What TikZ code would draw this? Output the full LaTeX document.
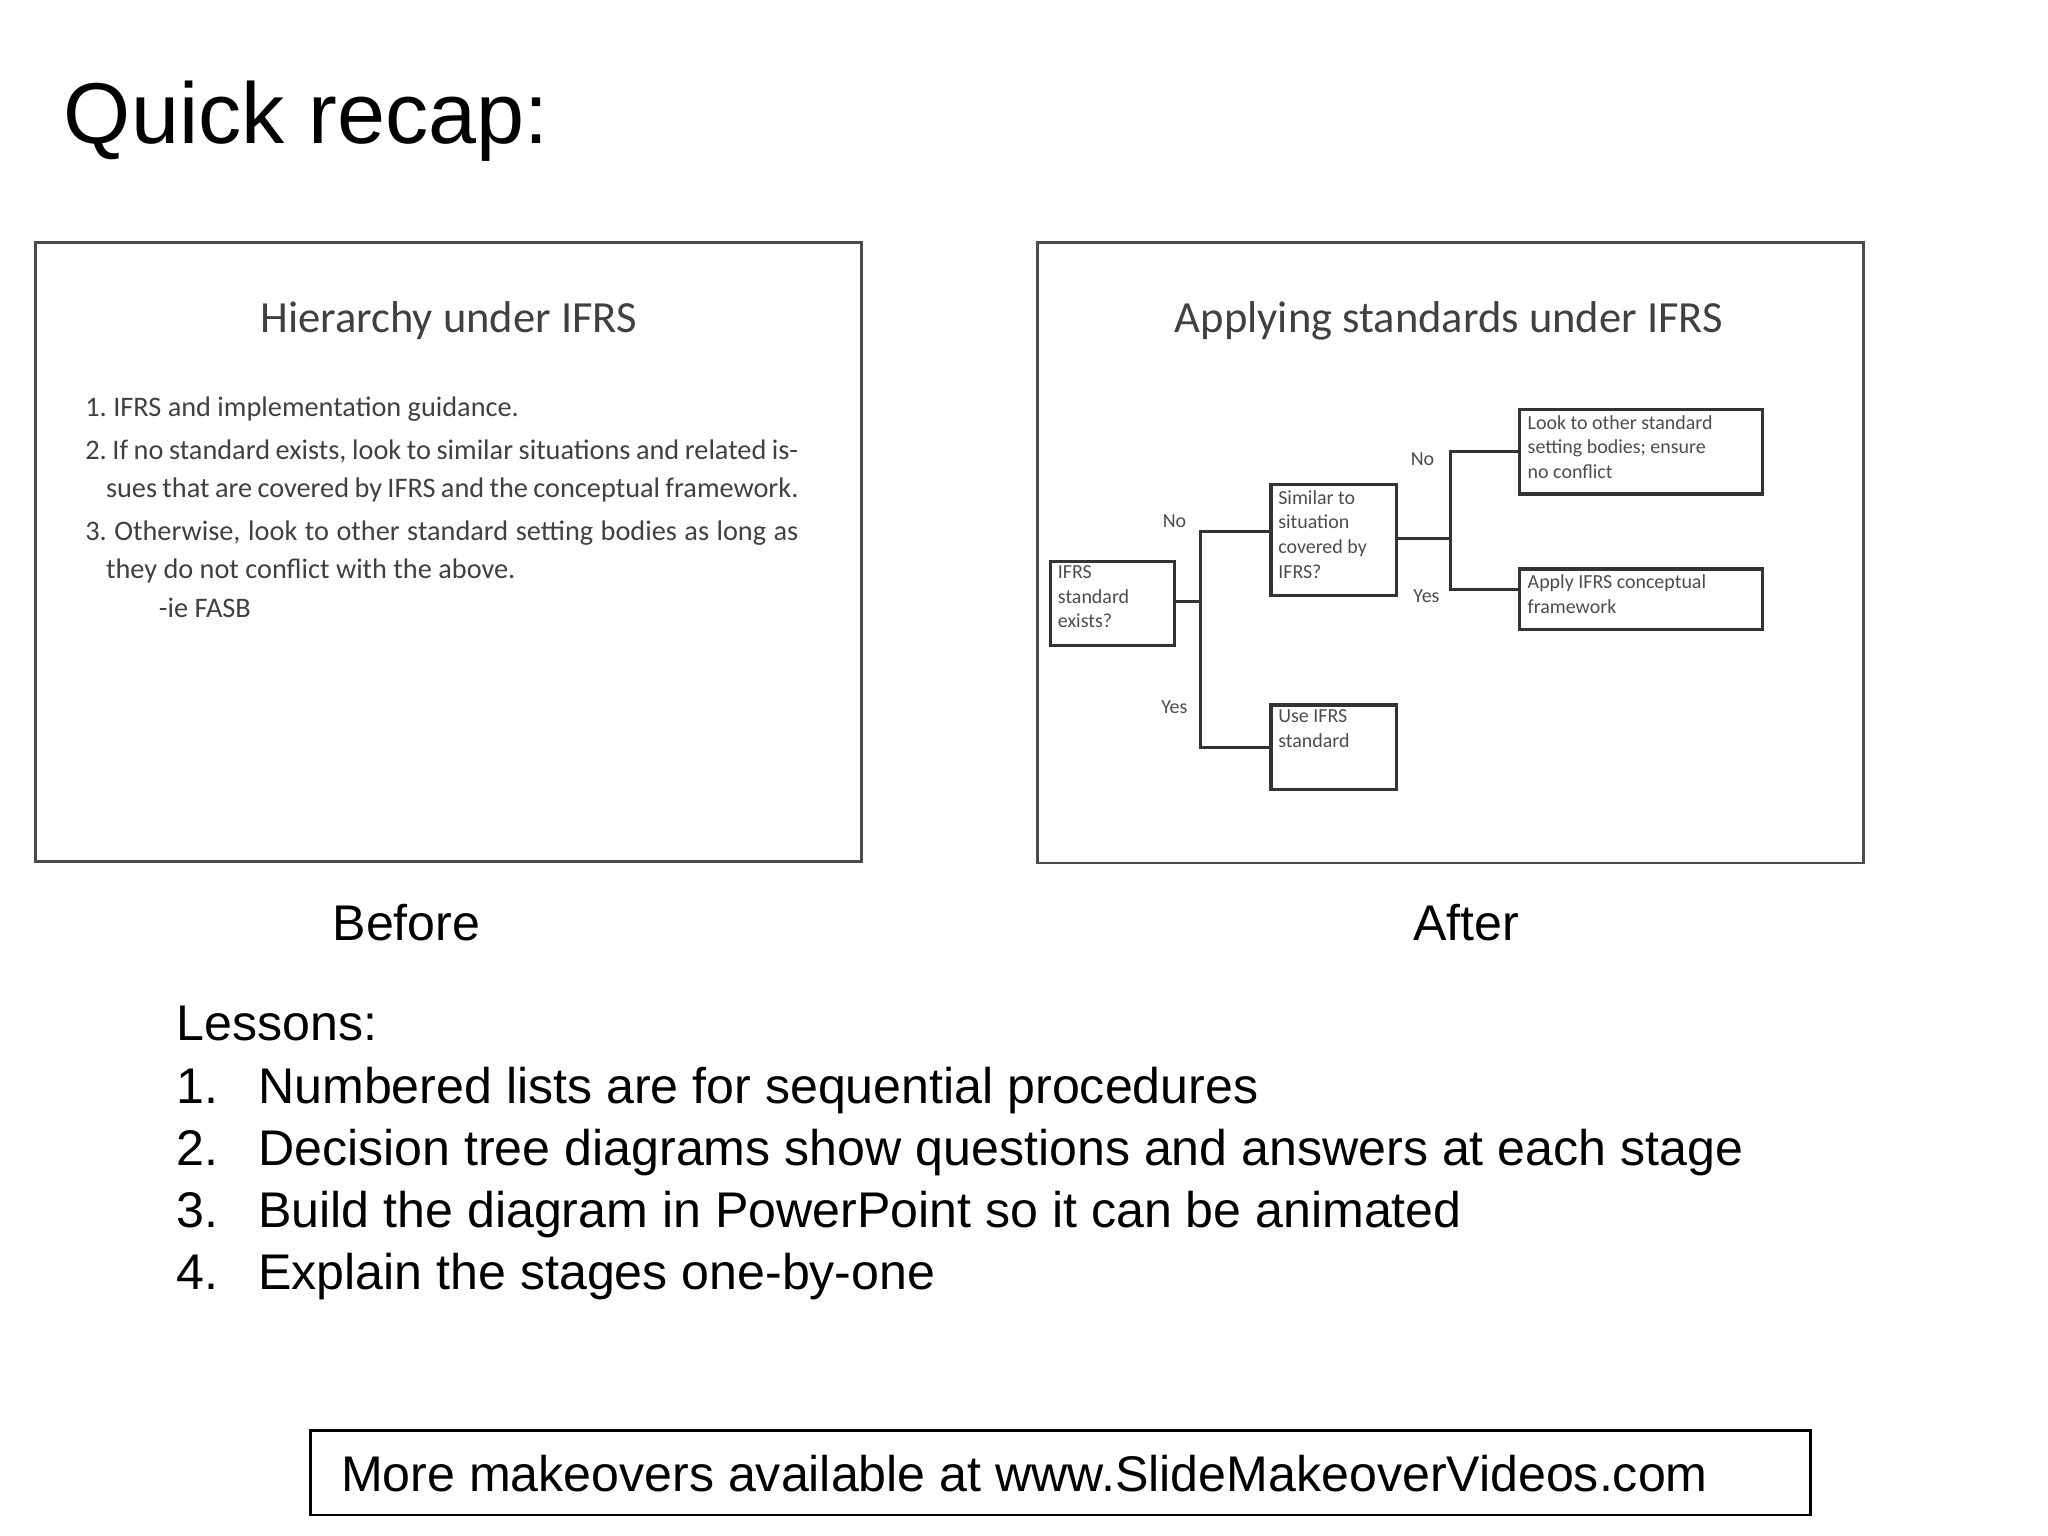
\documentclass[tikz,border=0pt]{standalone}
\usepackage{fontspec}
\setmainfont{Liberation Sans}
\newfontfamily\calfont{Carlito}
\begin{document}
\begin{tikzpicture}[x=0.01cm,y=-0.01cm,
 slide/.style={draw=black!70,line width=0.6pt},
 fbox/.style={draw=black!80,line width=0.7pt,anchor=north west,inner sep=0pt},
 ftxt/.style={anchor=north west,font=\calfont\fontsize{4.3}{5.3}\selectfont,text=black!70,align=left,inner sep=0pt},
 lbl/.style={font=\calfont\fontsize{4.3}{5}\selectfont,text=black!70},
 conn/.style={draw=black!80,line width=0.7pt}]
\useasboundingbox (0,0) rectangle (1552,1164);
\node[anchor=west,font=\fontsize{18.6}{22}\selectfont] (title) at (36,92) {Quick recap:};
% left slide
\draw[slide] (27,184) rectangle (653,653);
\node[font=\calfont\fontsize{9.6}{11}\selectfont,text=black!75] (lt) at (340,243) {Hierarchy under IFRS};
\node[anchor=north west,font=\calfont\fontsize{6.1}{8.3}\selectfont,text=black!75,inner sep=0pt,align=left] (ll) at (64,300) {%
\begin{minipage}{54mm}\leftskip=0.73em\parindent=-0.73em
1.\ IFRS and implementation guidance.\par\vspace{0.9pt}
2.\ If no standard exists, look to similar situations and related issues that are covered by IFRS and the conceptual framework.\par\vspace{0.9pt}
3.\ Otherwise, look to other standard setting bodies as long as they do not conflict with the above.\par
\hspace*{2.6em}-ie FASB\end{minipage}};
% right slide
\draw[slide] (786,184) rectangle (1412,654);
\node[font=\calfont\fontsize{9.6}{11}\selectfont,text=black!75] (rt) at (1098,243) {Applying standards under IFRS};
\node[fbox,minimum width=0.94cm,minimum height=0.64cm] (q1) at (795,424) {};
\node[ftxt] at (801,428) {IFRS\\standard\\exists?};
\node[fbox,minimum width=0.95cm,minimum height=0.84cm] (q2) at (962,366) {};
\node[ftxt] at (968,371) {Similar to\\situation\\covered by\\IFRS?};
\node[fbox,minimum width=0.95cm,minimum height=0.64cm] (use) at (962,533) {};
\node[ftxt] at (968,537) {Use IFRS\\standard};
\node[fbox,minimum width=1.84cm,minimum height=0.64cm] (look) at (1150,309) {};
\node[ftxt] at (1157,314) {Look to other standard\\setting bodies; ensure\\no conflict};
\node[fbox,minimum width=1.84cm,minimum height=0.46cm] (app) at (1150,430) {};
\node[ftxt] at (1157,435) {Apply IFRS conceptual\\framework};
\coordinate (j1) at (910,456);
\coordinate (j2) at (1099,408);
\draw[conn] (q1.east |- j1) -- (j1);
\draw[conn] (j1) |- (962,403) (j1) |- (use.west);
\draw[conn] (j2) |- (look.west) (j2) |- (1150,447);
\draw[conn] (q2.east |- j2) -- (j2);
\node[lbl] at (890,395) {No};
\node[lbl] at (890,536) {Yes};
\node[lbl] at (1078,348) {No};
\node[lbl] at (1081,452) {Yes};
% captions
\node[font=\fontsize{10.8}{13}\selectfont] (b) at (308,699) {Before};
\node[font=\fontsize{10.8}{13}\selectfont] (a) at (1111,699) {After};
\node[anchor=north west,font=\fontsize{10.8}{13.4}\selectfont,align=left,inner sep=0pt] (les) at (133,762) {Lessons:\\
1.\hspace{0.8em}Numbered lists are for sequential procedures\\
2.\hspace{0.8em}Decision tree diagrams show questions and answers at each stage\\
3.\hspace{0.8em}Build the diagram in PowerPoint so it can be animated\\
4.\hspace{0.8em}Explain the stages one-by-one};
\draw[line width=0.6pt] (235,1084) rectangle (1372,1148);
\node[anchor=west,font=\fontsize{10.8}{13}\selectfont] (ft) at (246,1117) {More makeovers available at www.SlideMakeoverVideos.com};
\end{tikzpicture}
\end{document}
